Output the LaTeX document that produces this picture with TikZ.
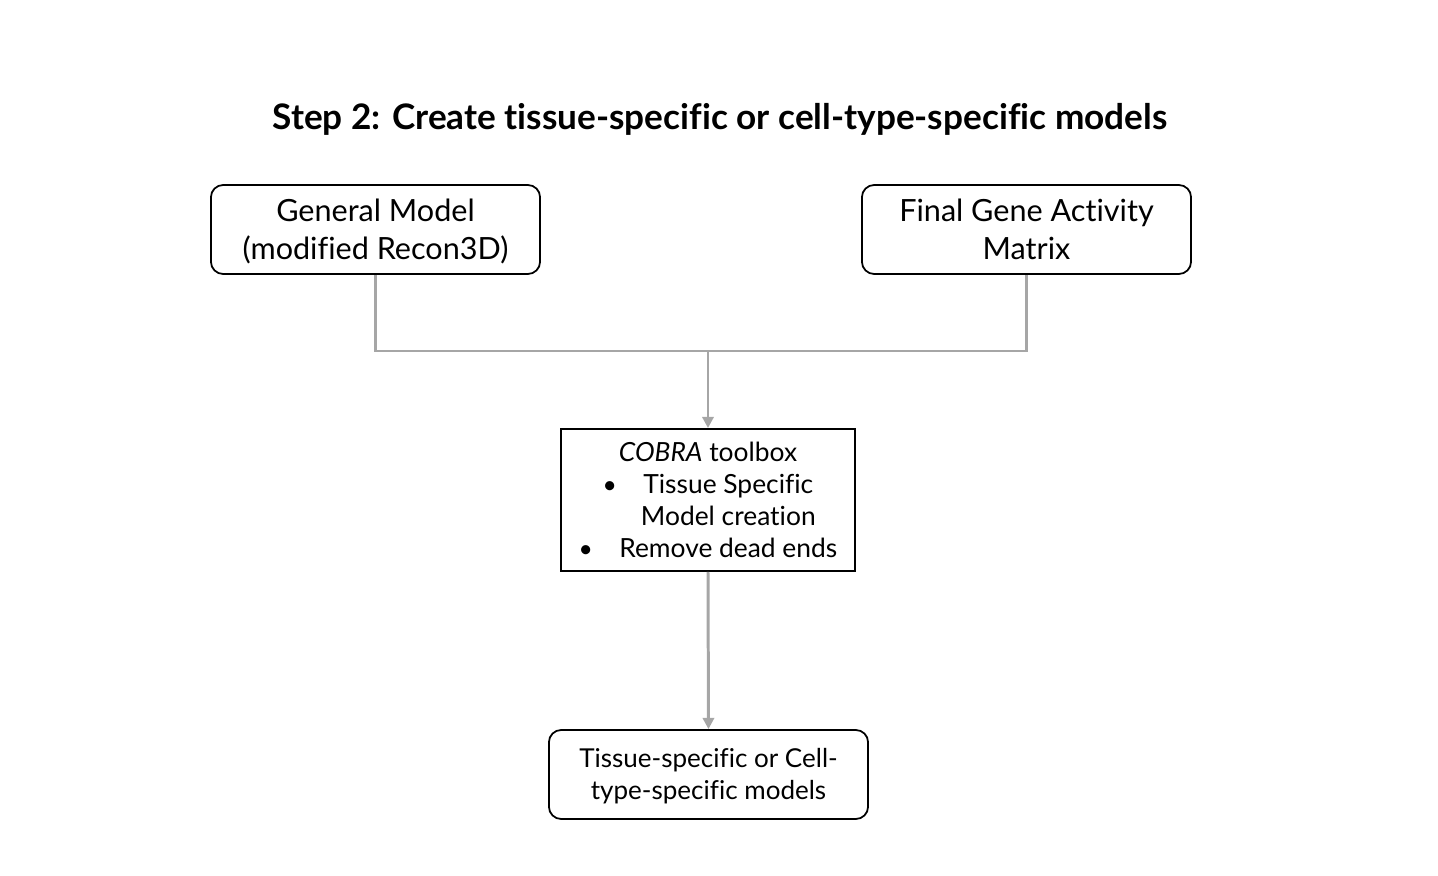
\documentclass[tikz,border=0pt]{standalone}
\usepackage{fontspec}
\setmainfont{Lato}[Ligatures=NoCommon]
\usetikzlibrary{arrows.meta}

\newcommand{\lowertext}[2]{\raisebox{-#1}[\height][\depth]{\begin{tabular}{@{}c@{}}#2\end{tabular}}}

\begin{document}
\begin{tikzpicture}[x=0.01cm, y=-0.01cm,
		roundbox/.style = {draw = black, line width = 0.5pt, rounded corners = 3.5pt, align = center, inner sep = 0pt},
		flatbox/.style = {draw = black, line width = 0.5pt, align = center, inner sep = 0pt},
		link/.style = {draw = black!35, line width = 0.85pt},
		arrow/.style = {link, -{Triangle[length = 3.2pt, width = 3.2pt]}}]
		\useasboundingbox (0,0) rectangle (1438,876);
		
		\node [font = \fontsize{10}{12}\selectfont\bfseries] (title) at (720, 119) {Step 2: Create tissue-specific or cell-type-specific models};
		
		% input boxes
		\node [roundbox, minimum width = 3.29cm, minimum height = 0.89cm, font = \fontsize{8.7}{10.8}\selectfont] (general) at (375.5, 229.5) {\lowertext{0.85pt}{General Model\\(modified Recon3D)}};
		\node [roundbox, minimum width = 3.29cm, minimum height = 0.89cm, font = \fontsize{8.7}{10.8}\selectfont] (matrix) at (1026.5, 229.5) {\lowertext{0.85pt}{Final Gene Activity\\Matrix}};
		
		% processing and result
		\node [flatbox, minimum width = 2.94cm, minimum height = 1.42cm, font = \fontsize{7.5}{9.1}\selectfont] (cobra) at (708, 500) {\textit{COBRA} toolbox\\{\scriptsize\textbullet}\quad Tissue Specific\\\phantom{{\scriptsize\textbullet}\quad}Model creation\\{\scriptsize\textbullet}\quad Remove dead ends};
		\node [roundbox, minimum width = 3.19cm, minimum height = 0.89cm, font = \fontsize{7.4}{9.1}\selectfont] (result) at (708.5, 774.5) {\lowertext{0.6pt}{Tissue-specific or Cell-\\type-specific models}};
		
		\coordinate (merge) at (708, 351);
		\draw [link] (general.south) |- (merge) -| (matrix.south);
		\draw [arrow] (merge) -- (cobra.north);
		\draw [arrow] (cobra.south) -- (result.north);
		
\end{tikzpicture}
\end{document}
